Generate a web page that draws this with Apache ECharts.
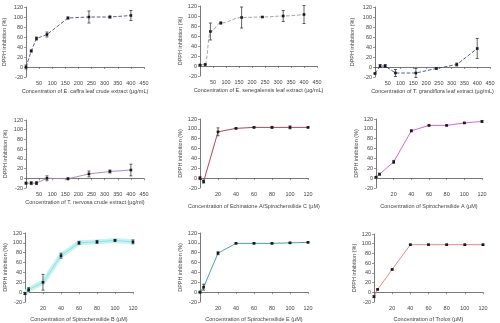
<!DOCTYPE html>
<html>
<head>
<meta charset="utf-8">
<script src="https://cdn.jsdelivr.net/npm/echarts@6/dist/echarts.min.js"></script>
<style>
html,body{margin:0;padding:0;background:#fff;}
#chart{width:500px;height:323px;}
</style>
</head>
<body>
<div id="chart"></div>
<script>
// Concentrations (x) per panel
const extractConc = [0, 20, 40, 80, 160, 240, 320, 400];
const compoundConc = [0, 4, 20, 40, 60, 80, 100, 120];

// DPPH inhibition (%) means and error bar half-widths
const caffraMean = [0, 32, 57, 65, 98, 100, 100, 103];
const caffraErr  = [4, 2, 3, 5, 2, 12, 2, 10];
const senegalMean = [2, 3, 69, 86, 97, 98, 100, 103];
const senegalErr  = [1, 1, 17, 2, 21, 1, 11, 18];
const grandiMean = [-13, 2, 2, -12, -12, -3, 5, 37];
const grandiErr  = [1, 3, 3, 7, 9, 1, 3, 20];
const nervosaMean = [-10, -10, -10, 0, -1, 9, 14, 17];
const nervosaErr  = [2, 3, 3, 5, 2, 6, 3, 12];
const echinMean = [0, -7, 94, 101, 103, 103, 103, 103];
const echinErr  = [3, 3, 8, 1, 1, 2, 3, 1];
const spiroAMean = [2, 8, 33, 96, 107, 107, 112, 115];
const spiroAErr  = [1, 2, 3, 2, 1, 1, 1, 2];
const spiroBMean = [-3, 5, 20, 74, 100, 102, 105, 102];
const spiroBErr  = [2, 4, 16, 5, 3, 3, 2, 4];
const spiroEMean = [0, 10, 79, 99, 99, 99, 100, 101];
const spiroEErr  = [2, 6, 3, 1, 1, 1, 1, 1];
const troloxMean = [-9, 6, 47, 98, 98, 98, 98, 98];
const troloxErr  = [2, 1, 1, 1, 1, 1, 1, 1];

const yTitle = 'DPPH inhibition (%)';

const panels = [
  {x: extractConc, y: caffraMean, e: caffraErr, color: '#4a4f72', dash: 'dashed', smooth: false,
   xMax: 450, xInt: 50, title: 'Concentration of E. caffra leaf crude extract (µg/mL)',
   grid: {left: 26, top: 7, width: 118, height: 70}, nameGapY: 19, nameGapX: 11},
  {x: extractConc, y: senegalMean, e: senegalErr, color: '#9a9a9a', dash: 'dashed', smooth: true,
   xMax: 450, xInt: 50, title: 'Concentration of E. senegalensis leaf extract (µg/mL)',
   grid: {left: 200, top: 6, width: 117, height: 70}, nameGapY: 17, nameGapX: 11},
  {x: extractConc, y: grandiMean, e: grandiErr, color: '#3a4a9a', dash: 'dashed', smooth: false,
   xMax: 450, xInt: 50, title: 'Concentration of T. grandiflora leaf extract (µg/mL)',
   grid: {left: 375, top: 7, width: 115, height: 70}, nameGapY: 20, nameGapX: 11},
  {x: extractConc, y: nervosaMean, e: nervosaErr, color: '#b07ab8', dash: 'solid', smooth: false,
   xMax: 450, xInt: 50, title: 'Concentration of T. nervosa crude extract (µg/ml)',
   grid: {left: 26, top: 120, width: 118, height: 68}, nameGapY: 18, nameGapX: 11},
  {x: compoundConc, y: echinMean, e: echinErr, color: '#a8324a', dash: 'solid', smooth: false,
   xMax: 120, xInt: 20, title: 'Concentration of Echinatone A/Spirochensilide C (µM)',
   grid: {left: 200, top: 119, width: 108, height: 69}, nameGapY: 15, nameGapX: 15},
  {x: compoundConc, y: spiroAMean, e: spiroAErr, color: '#d054d8', dash: 'solid', smooth: false,
   xMax: 120, xInt: 20, title: 'Concentration of Spirochensilide A (µM)',
   grid: {left: 376, top: 119, width: 106, height: 69}, nameGapY: 14, nameGapX: 15},
  {x: compoundConc, y: spiroBMean, e: spiroBErr, color: '#86dede', dash: 'solid', smooth: false, band: '#c6f2f2',
   xMax: 120, xInt: 20, title: 'Concentration of Spirochensilide B (µM)',
   grid: {left: 25, top: 233, width: 108, height: 70}, nameGapY: 13, nameGapX: 14},
  {x: compoundConc, y: spiroEMean, e: spiroEErr, color: '#2f9c9c', dash: 'solid', smooth: false,
   xMax: 120, xInt: 20, title: 'Concentration of Spirochensilide E (µM)',
   grid: {left: 200, top: 233, width: 108, height: 70}, nameGapY: 12, nameGapX: 14},
  {x: compoundConc, y: troloxMean, e: troloxErr, color: '#e27a7a', dash: 'solid', smooth: false,
   xMax: 120, xInt: 20, title: 'Concentration of Trolox (µM)',
   grid: {left: 374, top: 234, width: 109, height: 69}, nameGapY: 12, nameGapX: 14}
];

const FONT = 'Liberation Sans';
const textCol = '#444';
const axisCol = '#555';

const grids = [], xAxes = [], yAxes = [], series = [];

panels.forEach((p, i) => {
  grids.push(Object.assign({containLabel: false}, p.grid));
  xAxes.push({
    type: 'value', gridIndex: i, min: 0, max: p.xMax, interval: p.xInt,
    name: p.title, nameLocation: 'middle', nameGap: p.nameGapX,
    nameTextStyle: {fontSize: 5.5, color: textCol, fontFamily: FONT},
    axisLine: {onZero: true, lineStyle: {color: axisCol, width: 0.8}},
    axisTick: {length: 2, lineStyle: {color: axisCol, width: 0.6}},
    axisLabel: {fontSize: 5.5, color: textCol, fontFamily: FONT, margin: 3,
      formatter: v => v === 0 ? '' : String(v)},
    splitLine: {show: false}
  });
  yAxes.push({
    type: 'value', gridIndex: i, min: -20, max: 120, interval: 20,
    name: yTitle, nameLocation: 'middle', nameGap: p.nameGapY,
    nameTextStyle: {fontSize: 5.5, color: textCol, fontFamily: FONT},
    axisLine: {show: true, onZero: false, lineStyle: {color: axisCol, width: 0.8}},
    axisTick: {show: true, length: 2, lineStyle: {color: axisCol, width: 0.6}},
    axisLabel: {fontSize: 5.5, color: textCol, fontFamily: FONT, margin: 3},
    splitLine: {show: false}
  });

  const pts = p.x.map((xv, k) => [xv, p.y[k]]);
  if (p.band) {
    series.push({
      type: 'line', xAxisIndex: i, yAxisIndex: i, data: pts, symbol: 'none',
      lineStyle: {color: p.band, width: 5}, z: 1, silent: true
    });
  }
  series.push({
    type: 'line', xAxisIndex: i, yAxisIndex: i, data: pts,
    smooth: p.smooth ? 0.4 : false, smoothMonotone: 'x',
    symbol: 'rect', symbolSize: 2.6,
    itemStyle: {color: '#111'},
    lineStyle: {color: p.color, width: 0.9, type: p.dash},
    z: 2
  });
  // vertical error bars with caps
  series.push({
    type: 'custom', xAxisIndex: i, yAxisIndex: i,
    data: p.x.map((xv, k) => [xv, p.y[k] - p.e[k], p.y[k] + p.e[k]]),
    renderItem: (params, api) => {
      const lo = api.coord([api.value(0), api.value(1)]);
      const hi = api.coord([api.value(0), api.value(2)]);
      const c = 1.5;
      const st = {stroke: '#222', lineWidth: 0.7};
      return {type: 'group', children: [
        {type: 'line', shape: {x1: lo[0], y1: lo[1], x2: hi[0], y2: hi[1]}, style: st},
        {type: 'line', shape: {x1: lo[0] - c, y1: lo[1], x2: lo[0] + c, y2: lo[1]}, style: st},
        {type: 'line', shape: {x1: hi[0] - c, y1: hi[1], x2: hi[0] + c, y2: hi[1]}, style: st}
      ]};
    },
    z: 3, silent: true
  });
});

const chart = echarts.init(document.getElementById('chart'), null, {renderer: 'canvas'});
chart.setOption({
  animation: false,
  backgroundColor: '#fff',
  grid: grids, xAxis: xAxes, yAxis: yAxes, series: series
});
</script>
</body>
</html>
